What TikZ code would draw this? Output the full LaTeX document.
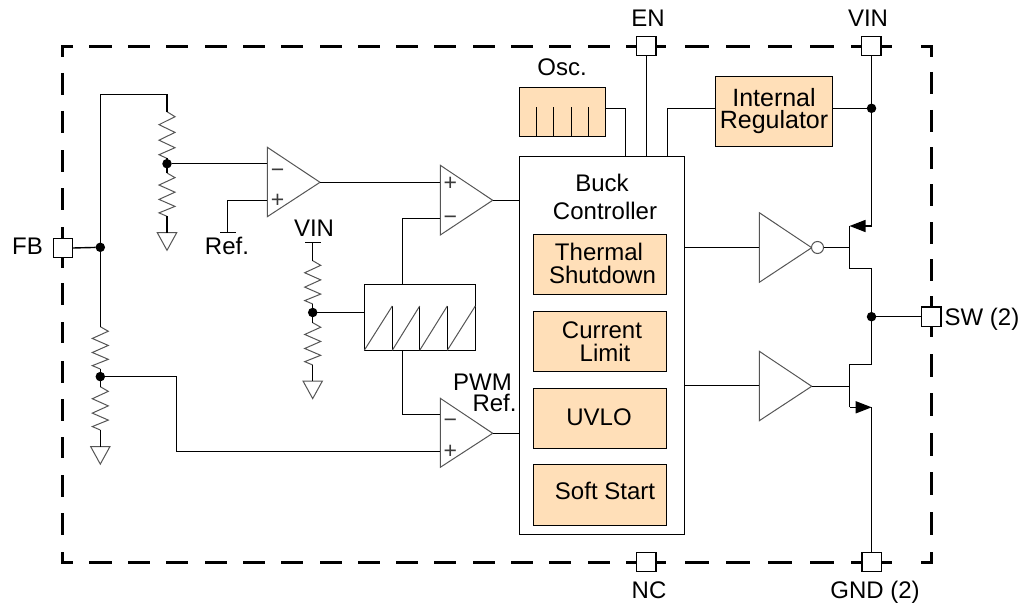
\documentclass[tikz,border=0pt]{standalone}
\usepackage{fontspec}
\setmainfont{Liberation Sans}
\usetikzlibrary{arrows.meta}
\definecolor{boxfill}{HTML}{FFDFB8}
\definecolor{partgray}{HTML}{555555}
\tikzset{
  wire/.style={line width=1.4pt,black,line join=miter},
  part/.style={line width=1pt,partgray,line join=miter},
  frame/.style={line width=3pt,black},
  pin/.style={draw=black,line width=1.4pt,fill=white,inner sep=0pt,outer sep=0pt,minimum width=19.5pt,minimum height=19.3pt},
  block/.style={draw=black,line width=1.4pt,inner sep=0pt,outer sep=0pt},
  tanblock/.style={block,fill=boxfill},
  lbl/.style={anchor=base,inner sep=0pt,outer sep=0pt,font=\fontsize{24}{24}\selectfont,text=black},
  lblwide/.style={lbl,font=\fontsize{25}{25}\selectfont},
  sign/.style={anchor=base,inner sep=0pt,outer sep=0pt,font=\fontsize{23}{23}\selectfont,text=partgray!70!black},
  dot/.style={circle,fill=black,inner sep=0pt,outer sep=0pt,minimum size=9.5pt},
  bubble/.style={circle,draw=partgray,line width=1pt,fill=white,inner sep=0pt,outer sep=0pt,minimum size=12pt},
  emitter/.style={-{Triangle[length=16pt,width=12pt]}},
}
\newcommand{\zigzag}[2]{\draw[part] (#1) -- ++(8,{#2*0.107}) -- ++(-16,{#2*0.171}) -- ++(16,{#2*0.165}) -- ++(-16,{#2*0.167}) -- ++(16,{#2*0.161}) -- ++(-16,{#2*0.150}) -- ++(8,{#2*0.079});}
\newcommand{\groundsym}[1]{\draw[part] (#1) ++(-9.7,0) -- ++(19.4,0) -- ++(-9.7,17.6) -- cycle;}
\begin{document}
\begin{tikzpicture}[x=1pt,y=-1pt]
\fill[white] (0,0) rectangle (1024,607);
\useasboundingbox (0,0) rectangle (1024,607);

% dashed package outline
\draw[frame] (73,46.5) -- (62.5,46.5) -- (62.5,57);
\draw[frame] (921,46.5) -- (931.5,46.5) -- (931.5,57);
\draw[frame] (62.5,552) -- (62.5,562.5) -- (73,562.5);
\draw[frame] (931.5,552) -- (931.5,562.5) -- (921,562.5);
\foreach \a/\b in {89/112,128/150,166/188,205/227,243/265,281/303,320/342,358/380,396/418,434/456,473/495,511/533,549/571,588/610,626/666,685/709,726/750,768/792,810/834,851/892}{
  \draw[frame] (\a,46.5) -- (\b,46.5);
  \draw[frame] (\a,562.5) -- (\b,562.5);
}
\foreach \a/\b in {73/95,111/133,150/172,188/210,227/268,283/305,322/343,361/383,399/421,437/458,475/497,513/535}{
  \draw[frame] (62.5,\a) -- (62.5,\b);
}
\foreach \a/\b in {72/94,110/132,147/169,184/206,222/244,259/281,296/337,354/377,393/416,433/456,472/495,512/535}{
  \draw[frame] (931.5,\a) -- (931.5,\b);
}

% pins
\node[pin] (pinEN) at (646.3,46) {};
\node[pin] (pinVIN) at (871.3,46) {};
\node[pin] (pinNC) at (646.3,562) {};
\node[pin] (pinGND) at (871.7,562) {};
\node[pin] (pinFB) at (63,248) {};
\node[pin] (pinSW) at (931.3,316.7) {};
\node[lbl] (lEN) at (648,26.7) {EN};
\node[lbl] (lVIN) at (868,26.7) {VIN};
\node[lbl] (lNC) at (649,598.3) {NC};
\node[lbl] (lGND) at (875,598.3) {GND (2)};
\node[lbl] (lFB) at (27.5,254.3) {FB};
\node[lbl] (lSW) at (982,325) {SW (2)};

% blocks
\node[tanblock,minimum width=86.4pt,minimum height=49pt] (osc) at (562.5,111.8) {};
\node[tanblock,minimum width=117.4pt,minimum height=70pt] (reg) at (774,111.3) {};
\node[block,fill=white,minimum width=165.2pt,minimum height=377.8pt] (buck) at (601.9,345.4) {};
\node[tanblock,minimum width=133.2pt,minimum height=60pt] (therm) at (599.9,264.3) {};
\node[tanblock,minimum width=133.2pt,minimum height=60pt] (curr) at (599.9,341.3) {};
\node[tanblock,minimum width=133.2pt,minimum height=60pt] (uvlo) at (599.9,418.3) {};
\node[tanblock,minimum width=133.2pt,minimum height=61pt] (soft) at (599.9,494.8) {};
\node[block,minimum width=111pt,minimum height=66pt] (saw) at (419.8,317.3) {};

\node[lbl] (tOsc) at (562,76) {Osc.};
\node[lblwide] (tInt) at (774,106.7) {Internal};
\node[lblwide] (tReg) at (774,128.3) {Regulator};
\node[lbl] (tBuck) at (602,191.7) {Buck};
\node[lbl] (tCtl) at (605,219) {Controller};
\node[lbl] (tTh) at (599,260) {Thermal};
\node[lbl] (tSh) at (602.5,283.3) {Shutdown};
\node[lbl] (tCu) at (602,338.3) {Current};
\node[lbl] (tLi) at (605,361) {Limit};
\node[lbl] (tUv) at (599,425.7) {UVLO};
\node[lbl] (tSo) at (605,499) {Soft Start};
\node[lbl] (tRef1) at (227,254) {Ref.};
\node[lbl] (tVin2) at (314,236.7) {VIN};
\node[lbl] (tPWM) at (482.5,390.7) {PWM};
\node[lbl] (tRef2) at (494.5,411) {Ref.};

% oscillator ticks
\foreach \x in {536.3,553.3,571.3,588.7}{ \draw[wire] (\x,107.3) -- (\x,136.3); }

% sawtooth
\foreach \x in {392.3,419.7,447.3}{ \draw[wire] (\x,306) -- (\x,350.3); }
\foreach \a/\b in {364.3/392.3,392.3/419.7,419.7/447.3,447.3/475.3}{ \draw[part] (\a,350.3) -- (\b,306); }

% amplifiers and drivers
\draw[part] (267.3,147.3) -- (320,182.3) -- (267.3,216.7) -- cycle;
\draw[part] (440.3,165.3) -- (492.7,200.3) -- (440.3,235) -- cycle;
\draw[part] (440.3,398.3) -- (492.7,433.3) -- (440.3,467.3) -- cycle;
\draw[part] (759.3,212.7) -- (811.7,247.7) -- (759.3,282.3) -- cycle;
\draw[part] (759.3,351.3) -- (811.7,386.3) -- (759.3,420.7) -- cycle;
\node[bubble] (inv) at (817.5,247.5) {};
\node[sign] (sAm) at (277.7,177) {−};
\node[sign] (sAp) at (277.7,207.7) {+};
\node[sign] (sBp) at (450.3,190.4) {+};
\node[sign] (sBm) at (450.3,224.4) {−};
\node[sign] (sCm) at (450.3,427.7) {−};
\node[sign] (sCp) at (450.3,458.7) {+};

\coordinate (ampAm) at (267.3,163.7);
\coordinate (ampAp) at (267.3,200.3);
\coordinate (ampAo) at (320,182.3);
\coordinate (ampBp) at (440.3,182.3);
\coordinate (ampBm) at (440.3,218.3);
\coordinate (ampBo) at (492.7,200.3);
\coordinate (ampCm) at (440.3,414.3);
\coordinate (ampCp) at (440.3,451.3);
\coordinate (ampCo) at (492.7,433.3);
\coordinate (drvHi) at (758.5,247.5);
\coordinate (drvLi) at (758.5,385.3);
\coordinate (drvLo) at (811.7,386.3);

% junctions
\node[dot] (jFB) at (100.3,247.3) {};
\node[dot] (jR1) at (167,163.7) {};
\node[dot] (jR3) at (100.3,376.6) {};
\node[dot] (jR5) at (312.7,312.5) {};
\node[dot] (jVIN) at (871.5,108.3) {};
\node[dot] (jSW) at (871.5,316.7) {};

% resistors
\coordinate (r1) at (167,111.7);   \coordinate (r1e) at (167,158.4);
\coordinate (r2) at (167,173);     \coordinate (r2e) at (167,216.3);
\coordinate (r3) at (100.3,326.7); \coordinate (r3e) at (100.3,369);
\coordinate (r4) at (100.3,386.7); \coordinate (r4e) at (100.3,430);
\coordinate (r5) at (312.7,260.7); \coordinate (r5e) at (312.7,304);
\coordinate (r6) at (312.7,322.7); \coordinate (r6e) at (312.7,365);
\zigzag{r1}{46.7}
\zigzag{r2}{43.3}
\zigzag{r3}{42.3}
\zigzag{r4}{43.3}
\zigzag{r5}{43.3}
\zigzag{r6}{42.3}

% grounds
\coordinate (g1) at (167,232.7);
\coordinate (g2) at (100.3,446.5);
\coordinate (g3) at (312.7,381);
\groundsym{g1}
\groundsym{g2}
\groundsym{g3}

% rails
\coordinate (topL) at (100.3,94.3);
\coordinate (topR) at (167,94.3);
\coordinate (refA) at (220,232.3);
\coordinate (refB) at (236,232.3);
\coordinate (refC) at (227.3,232.3);
\coordinate (vinA) at (305,242.3);
\coordinate (vinB) at (320.7,242.3);
\coordinate (vinC) at (312.7,242.3);
\draw[wire] (refA) -- (refB);
\draw[wire] (vinA) -- (vinB);

% connectors: analog side
\draw[wire] (pinFB.east) -- (jFB);
\draw[wire] (r3) -- (topL) -- (topR) -- (r1);
\draw[wire] (r1e) -- (r2);
\draw[wire] (r2e) -- (g1);
\draw[wire] (jR1) -- (ampAm);
\draw[wire] (refC) -- (refC |- ampAp) -- (ampAp);
\draw[wire] (ampAo) -- (ampBp);
\draw[wire] (r3e) -- (r4);
\draw[wire] (r4e) -- (g2);
\draw[wire] (jR3) -- (176.3,376.6) -- (176.3,451.3) -- (ampCp);
\draw[wire] (vinC) -- (r5);
\draw[wire] (r5e) -- (r6);
\draw[wire] (r6e) -- (g3);
\draw[wire] (jR5) -- (jR5 -| saw.west);
\draw[wire] (saw.north -| 402.3,0) -- (402.3,218.3) -- (ampBm);
\draw[wire] (saw.south -| 402.3,0) -- (402.3,414.3) -- (ampCm);
\draw[wire] (ampBo) -- (ampBo -| buck.west);
\draw[wire] (ampCo) -- (ampCo -| buck.west);

% connectors: top side
\draw[wire] (osc.east |- 0,108.3) -- (625.7,108.3) -- (buck.north -| 625.7,0);
\draw[wire] (pinEN.south) -- (pinEN.south |- buck.north);
\draw[wire] (reg.west |- 0,108.3) -- (667.3,108.3) -- (buck.north -| 667.3,0);
\draw[wire] (reg.east |- jVIN) -- (jVIN);

% connectors: output stage
\draw[wire,emitter] (pinVIN.south) -- (871.3,226) -- (849.5,226);
\draw[wire] (849.5,226) -- (849.5,268.3) -- (871.5,268.3) -- (871.5,364.3) -- (849.5,364.3) -- (849.5,407.3);
\draw[wire,emitter] (849.5,407.3) -- (871.7,407.3);
\draw[wire] (871.7,407.3) -- (pinGND.north);
\draw[wire] (jSW) -- (pinSW.west);
\draw[wire] (inv.east) -- (849.5,247.5);
\draw[wire] (drvLo) -- (849.5,386.3);
\draw[wire] (drvHi -| buck.east) -- (drvHi);
\draw[wire] (drvLi -| buck.east) -- (drvLi);
\end{tikzpicture}
\end{document}
